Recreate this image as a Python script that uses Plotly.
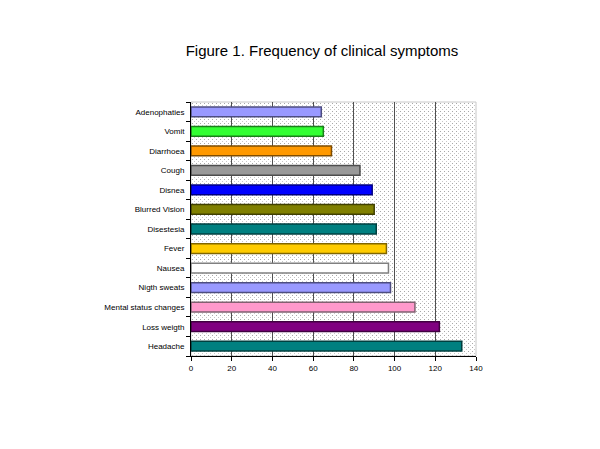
"""Figure 1: frequency of clinical symptoms, horizontal bars."""

import base64

import plotly.graph_objects as go

# bottom to top, as drawn
SYMPTOMS = [
    "Headache",
    "Loss weigth",
    "Mental status changes",
    "Nigth sweats",
    "Nausea",
    "Fever",
    "Disestesia",
    "Blurred Vision",
    "Disnea",
    "Cough",
    "Diarrhoea",
    "Vomit",
    "Adenophaties",
]
COUNTS = [133, 122, 110, 98, 97, 96, 91, 90, 89, 83, 69, 65, 64]
BAR_COLORS = [
    "#008080", "#800080", "#FF99CC", "#9999FF", "#FFFFFF", "#FFCC00", "#008080",
    "#808000", "#0000FF", "#999999", "#FF9900", "#33FF33", "#9999FF",
]
EDGE_COLORS = [
    "#004040", "#400040", "#806070", "#4d4d80", "#808080", "#806600", "#004040",
    "#404000", "#000080", "#4d4d4d", "#804d00", "#1a801a", "#4d4d80",
]
X_TICKS = [0, 20, 40, 60, 80, 100, 120, 140]

FONT = "Arial, Liberation Sans, sans-serif"

# plot area in pixels (the page body adds an 8px offset)
W, H = 600, 449
LEFT, TOP = 183, 94
PW, PH = 285, 254
RIGHT, BOTTOM = W - LEFT - PW, H - TOP - PH


def dotted_background(width: int, height: int) -> str:
    svg = (
        f'<svg xmlns="http://www.w3.org/2000/svg" width="{width}" height="{height}">'
        '<defs><pattern id="p" width="4" height="4" patternUnits="userSpaceOnUse">'
        '<rect x="1" y="1" width="1" height="1" fill="#a8a8a8"/>'
        '<rect x="3" y="3" width="1" height="1" fill="#c8c8c8"/>'
        "</pattern></defs>"
        f'<rect width="{width}" height="{height}" fill="url(#p)"/></svg>'
    )
    return "data:image/svg+xml;base64," + base64.b64encode(svg.encode()).decode()


fig = go.Figure(
    go.Bar(
        x=COUNTS,
        y=SYMPTOMS,
        orientation="h",
        marker=dict(color=BAR_COLORS, line=dict(color=EDGE_COLORS, width=1.5)),
        width=0.5,
        hoverinfo="x+y",
    )
)

fig.update_layout(
    width=W,
    height=H,
    autosize=False,
    paper_bgcolor="white",
    plot_bgcolor="white",
    margin=dict(l=LEFT, r=RIGHT, t=TOP, b=BOTTOM, pad=0),
    showlegend=False,
    font=dict(family=FONT, color="black", size=8),
    title=dict(
        text="Figure 1. Frequency of clinical symptoms",
        x=(322 - 8) / W,
        xanchor="center",
        y=1 - (51 - 8) / H,
        yanchor="middle",
        font=dict(family=FONT, size=15, color="black"),
    ),
    images=[
        dict(
            source=dotted_background(PW, PH),
            xref="paper",
            yref="paper",
            x=0,
            y=1,
            sizex=1,
            sizey=1,
            sizing="stretch",
            layer="below",
        )
    ],
)

fig.update_xaxes(
    range=[0, 140],
    tickvals=X_TICKS,
    ticks="outside",
    ticklen=4,
    tickcolor="black",
    showline=True,
    linecolor="black",
    linewidth=1,
    mirror=False,
    showgrid=True,
    gridcolor="#505050",
    gridwidth=1,
    zeroline=False,
    tickfont=dict(size=8, family=FONT),
    fixedrange=True,
)
fig.update_yaxes(
    range=[-0.5, len(SYMPTOMS) - 0.5],
    ticks="outside",
    tickson="boundaries",
    ticklen=4,
    tickcolor="black",
    showline=True,
    linecolor="black",
    linewidth=1,
    showgrid=False,
    ticklabelstandoff=4,
    tickfont=dict(size=8, family=FONT),
    fixedrange=True,
)

# light border on the top and right of the back wall
fig.add_shape(
    type="rect", xref="paper", yref="paper", x0=0, y0=0, x1=1, y1=1,
    line=dict(color="#c8c8c8", width=1), layer="below",
)

fig.write_html("out.html")
